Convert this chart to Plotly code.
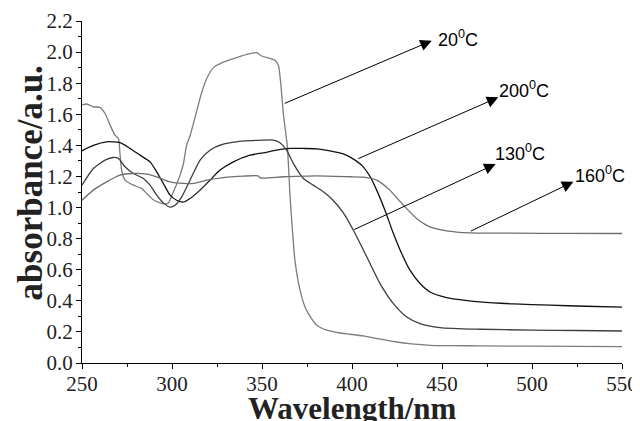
import plotly.graph_objects as go

# ---- data ----
w20 = [250, 252.6, 256.3, 260, 262.8, 265.6, 268.3, 270.2, 271.1, 272, 273.9, 278.5, 283.1, 286,
       289.6, 293.3, 296, 298, 300.7, 302.6, 304.5, 306.3, 308.1, 310, 313.7, 316.5, 319.3, 323,
       328.5, 335.9, 343.3, 347, 349.8, 354.4, 357.2, 359.1, 360.4, 361.9, 364.1, 365.6, 366.5,
       368.3, 371.1, 373.9, 376.7, 380.4, 386, 393.3, 398.9, 406.3, 415, 424.8, 433, 443.3, 455,
       471, 500, 550]
a20 = [1.66, 1.666, 1.648, 1.644, 1.605, 1.53, 1.466, 1.445, 1.348, 1.24, 1.176, 1.144, 1.123, 1.09,
       1.05, 1.03, 1.024, 1.03, 1.10, 1.15, 1.21, 1.28, 1.40, 1.46, 1.62, 1.74, 1.83, 1.90,
       1.935, 1.965, 1.99, 1.996, 1.975, 1.96, 1.948, 1.915, 1.80, 1.60, 1.39, 1.07, 0.92,
       0.66, 0.47, 0.36, 0.30, 0.243, 0.211, 0.193, 0.185, 0.174, 0.155, 0.135, 0.123, 0.114, 0.112,
       0.11, 0.108, 0.105]

w200 = [250, 256.3, 263.7, 271.1, 276.7, 282.2, 287.8, 291.5, 295.2, 298.9, 302.6, 306.3, 310,
        315.6, 321.1, 326.7, 334.1, 343.3, 350.7, 358.1, 365.6, 373, 380.4, 387.8, 395.2, 401.7,
        406, 410, 413.7, 418.3, 423, 427.6, 432.2, 437.8, 443.3, 452.6, 461.8, 471, 490, 510,
        530, 550]
a200 = [1.365, 1.40, 1.423, 1.417, 1.38, 1.337, 1.294, 1.23, 1.155, 1.08, 1.047, 1.035, 1.058,
        1.112, 1.176, 1.241, 1.294, 1.337, 1.352, 1.369, 1.38, 1.38, 1.378, 1.365, 1.345, 1.305,
        1.265, 1.20, 1.112, 0.983, 0.833, 0.704, 0.597, 0.511, 0.457, 0.421, 0.404, 0.393, 0.38,
        0.372, 0.365, 0.359]

w130 = [250, 256.3, 262.8, 267.4, 270.2, 273.9, 278.5, 284.1, 287.8, 291.5, 295.2, 298.9, 301.7,
        305.4, 310, 315.6, 321.1, 328.5, 335.9, 343.3, 350.7, 356.3, 360, 363.7, 367.4, 373,
        378.5, 384.1, 389.6, 395.2, 401.7, 408.2, 415.6, 423, 430.4, 437.8, 448.9, 471, 500,
        525, 550]
a130 = [1.144, 1.251, 1.305, 1.322, 1.316, 1.262, 1.219, 1.187, 1.144, 1.08, 1.03, 1.003, 1.015,
        1.069, 1.176, 1.305, 1.369, 1.408, 1.423, 1.43, 1.434, 1.434, 1.417, 1.369, 1.284, 1.187,
        1.144, 1.101, 1.045, 0.965, 0.833, 0.683, 0.511, 0.382, 0.296, 0.254, 0.228, 0.217, 0.212,
        0.209, 0.206]

w160 = [250, 256.3, 263.7, 271.1, 278.5, 286, 291.5, 298.9, 306.3, 311.9, 319.3, 328.5, 339.6,
        347.9, 348.9, 361.9, 380.4, 398.9, 406.3, 413.7, 421, 428.5, 435.9, 443.3, 452.6, 465.6,
        490, 520, 550]
a160 = [1.047, 1.112, 1.165, 1.208, 1.219, 1.215, 1.198, 1.165, 1.155, 1.155, 1.176, 1.193, 1.202,
        1.204, 1.191, 1.198, 1.204, 1.198, 1.195, 1.176, 1.112, 1.016, 0.93, 0.876, 0.85, 0.837,
        0.835, 0.834, 0.833]

series_names = ["20<sup>0</sup>C", "200<sup>0</sup>C", "130<sup>0</sup>C", "160<sup>0</sup>C"]
# arrow tail (on curve) and head (at label) in data coordinates
arrow_tail_x = [361.8, 402.6, 400.4, 465.2]
arrow_tail_y = [1.666, 1.31, 0.854, 0.844]
arrow_head_x = [444.3, 481.3, 479.8, 523.0]
arrow_head_y = [2.073, 1.709, 1.28, 1.166]
label_x = [446.5, 480.5, 478.5, 523.0]
label_y = [2.09, 1.76, 1.355, 1.215]

x_ticks = [250, 300, 350, 400, 450, 500, 550]
y_ticks = [0.0, 0.2, 0.4, 0.6, 0.8, 1.0, 1.2, 1.4, 1.6, 1.8, 2.0, 2.2]

fig = go.Figure()
styles = [("#7c7c7c", w20, a20), ("#111111", w200, a200), ("#3e3e3e", w130, a130), ("#6f6f6f", w160, a160)]
for color, xs, ys in styles:
    fig.add_trace(go.Scatter(x=xs, y=ys, mode="lines",
                             line=dict(color=color, width=1.3, shape="spline", smoothing=0.6),
                             showlegend=False, hoverinfo="skip"))

for i in range(4):
    fig.add_annotation(x=arrow_head_x[i], y=arrow_head_y[i], ax=arrow_tail_x[i], ay=arrow_tail_y[i],
                       xref="x", yref="y", axref="x", ayref="y", text="", showarrow=True,
                       arrowhead=2, arrowsize=2.3, arrowwidth=1, arrowcolor="black",
                       standoff=0, startstandoff=0)
    fig.add_annotation(x=label_x[i], y=label_y[i], xref="x", yref="y", text=series_names[i],
                       showarrow=False, xanchor="left", yanchor="middle",
                       font=dict(family="Liberation Sans, Arial", size=18, color="black"))

axis_font = dict(family="Liberation Serif, Times New Roman", size=21, color="#222")
fig.update_xaxes(range=[250, 550], tickvals=x_ticks, ticktext=[str(v) for v in x_ticks],
                 ticks="outside", ticklen=5, tickwidth=1, tickcolor="black",
                 showline=True, linecolor="black", linewidth=1, mirror=False,
                 showgrid=False, zeroline=False, tickfont=axis_font, ticklabelstandoff=-3,
                 minor=dict(ticks="outside", ticklen=3, dtick=25, tick0=250, tickcolor="black", showgrid=False))
fig.update_yaxes(range=[0, 2.2], tickvals=y_ticks, ticktext=["%.1f" % v for v in y_ticks],
                 ticks="outside", ticklen=5, tickwidth=1, tickcolor="black",
                 showline=True, linecolor="black", linewidth=1, mirror=False,
                 showgrid=False, zeroline=False, tickfont=axis_font, ticklabelstandoff=-1,
                 minor=dict(ticks="outside", ticklen=3, dtick=0.1, tick0=0, tickcolor="black", showgrid=False))

fig.add_annotation(xref="paper", yref="paper", x=0.5, y=0, yshift=-45, xanchor="center", yanchor="middle",
                   text="<b>Wavelength/nm</b>", showarrow=False,
                   font=dict(family="Liberation Serif, Times New Roman", size=31, color="#222"))
fig.add_annotation(xref="paper", yref="paper", x=0, xshift=-52, y=0.525, xanchor="center", yanchor="middle",
                   text="<b>absorbance/a.u.</b>", textangle=-90, showarrow=False,
                   font=dict(family="Liberation Serif, Times New Roman", size=35, color="#222"))

# page body adds an 8px offset, so the figure is drawn 8px smaller and margins shifted
fig.update_layout(width=632, height=413, margin=dict(l=74, r=18, t=13, b=58, autoexpand=False),
                  plot_bgcolor="white", paper_bgcolor="white")
fig.write_html("out.html")
